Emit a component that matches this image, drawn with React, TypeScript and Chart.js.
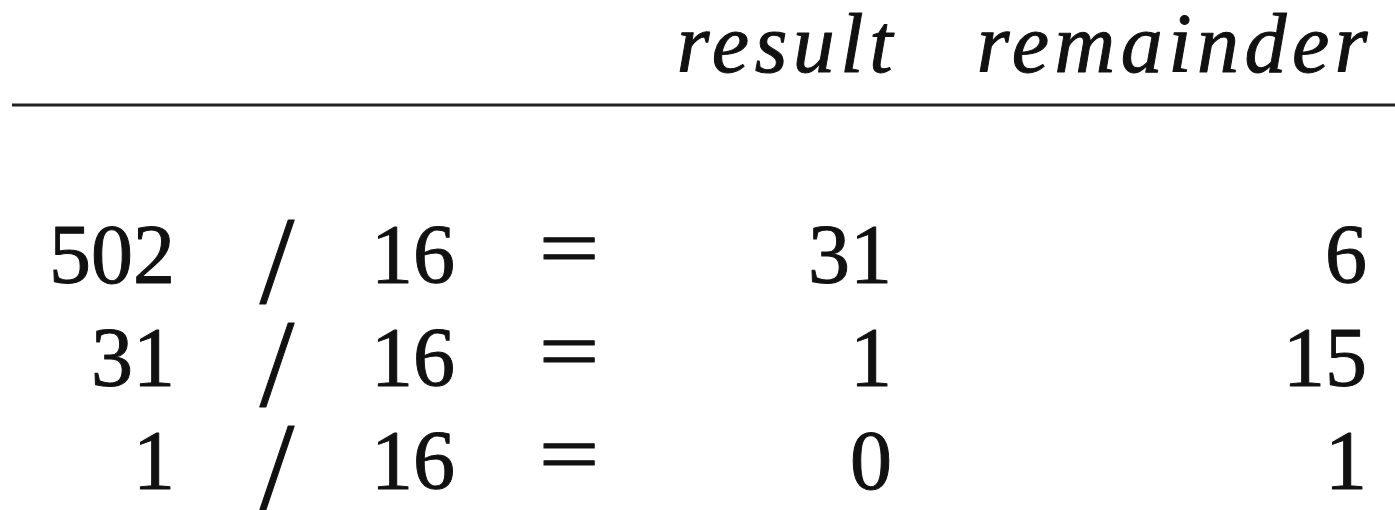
import { useEffect, useRef } from 'react';
import { Chart, registerables } from 'chart.js';

Chart.register(...registerables);

// ---- data ----
const dividends = [502, 31, 1];
const divisors = [16, 16, 16];
const results = [31, 1, 0];
const remainders = [6, 15, 1];
const headers = ['result', 'remainder'];
const rows = [1, 2, 3];

// ---- layout (scale units) ----
const W = 1395;
const H = 510;
const ROW_STEP = 103;
const Y_MIN = 1 - 283 / ROW_STEP;
const Y_MAX = Y_MIN + H / ROW_STEP;
const HEADER_ROW = Y_MIN + 72 / ROW_STEP;
const RULE_ROW = Y_MIN + 105 / ROW_STEP;
const COL_DIVIDEND = 175;
const COL_SLASH = 277;
const COL_DIVISOR = 455;
const COL_EQUALS = 569;
const COL_RESULT = 892;
const COL_REMAINDER = 1367;
const RULE_FROM = 12;
const RULE_TO = 1395;

const FONT = "'Liberation Serif', 'Times New Roman', serif";
const INK = '#111111';

const cellTextPlugin = {
  id: 'cellText',
  afterDatasetsDraw(chart: any) {
    const ctx: CanvasRenderingContext2D = chart.ctx;
    chart.data.datasets.forEach((ds: any, i: number) => {
      if (!ds.cellText) return;
      const meta = chart.getDatasetMeta(i);
      meta.data.forEach((pt: any, j: number) => {
        ctx.save();
        ctx.font = ds.cellFont;
        ctx.fillStyle = INK;
        ctx.strokeStyle = INK;
        ctx.lineWidth = ds.bold ?? 1;
        ctx.lineJoin = 'round';
        ctx.textAlign = ds.cellAlign;
        ctx.textBaseline = 'alphabetic';
        if (ds.letterSpacing) (ctx as any).letterSpacing = ds.letterSpacing;
        ctx.translate(pt.x + (ds.dx || 0), pt.y + (ds.dy || 0));
        ctx.scale(ds.sx || 1, 1);
        const t = String(ds.cellText[j]);
        ctx.fillText(t, 0, 0);
        if (ctx.lineWidth > 0) ctx.strokeText(t, 0, 0);
        ctx.restore();
      });
    });
  },
};

function column(x: number, values: (string | number)[], align: string, font: string, extra: any = {}) {
  return {
    data: rows.map((r) => ({ x, y: r })),
    cellText: values,
    cellAlign: align,
    cellFont: font,
    pointRadius: 0,
    showLine: false,
    ...extra,
  };
}

export default function App() {
  const ref = useRef<HTMLCanvasElement>(null);
  useEffect(() => {
    document.body.style.margin = '0';
    const body = `84px ${FONT}`;
    const chart = new Chart(ref.current as HTMLCanvasElement, {
      type: 'scatter',
      data: {
        datasets: [
          column(COL_DIVIDEND, dividends, 'right', body),
          column(COL_SLASH, rows.map(() => '/'), 'center', `124px ${FONT}`, { dy: 20, bold: 0 }),
          column(COL_DIVISOR, divisors, 'right', body),
          column(COL_EQUALS, rows.map(() => '='), 'center', `84px ${FONT}`, { sx: 1.28, dy: -6 }),
          column(COL_RESULT, results, 'right', body),
          column(COL_REMAINDER, remainders, 'right', body),
          {
            data: [
              { x: COL_RESULT, y: HEADER_ROW },
              { x: COL_REMAINDER, y: HEADER_ROW },
            ],
            cellText: headers,
            cellAlign: 'right',
            cellFont: `italic 84px ${FONT}`,
            letterSpacing: '5.5px',
            dx: 6,
            pointRadius: 0,
            showLine: false,
          },
          {
            data: [
              { x: RULE_FROM, y: RULE_ROW },
              { x: RULE_TO, y: RULE_ROW },
            ],
            showLine: true,
            borderColor: '#222222',
            borderWidth: 3,
            pointRadius: 0,
          },
        ] as any,
      },
      options: {
        responsive: false,
        animation: false,
        devicePixelRatio: 1,
        events: [],
        layout: { padding: 0 },
        plugins: { legend: { display: false }, tooltip: { enabled: false } },
        scales: {
          x: { type: 'linear', display: false, min: 0, max: W },
          y: { type: 'linear', display: false, reverse: true, min: Y_MIN, max: Y_MAX },
        },
      },
      plugins: [cellTextPlugin],
    });
    return () => chart.destroy();
  }, []);
  return (
    <div style={{ position: 'absolute', left: 0, top: 0, width: W, height: H, background: '#ffffff' }}>
      <canvas ref={ref} width={W} height={H} style={{ display: 'block', width: W, height: H }} />
    </div>
  );
}
